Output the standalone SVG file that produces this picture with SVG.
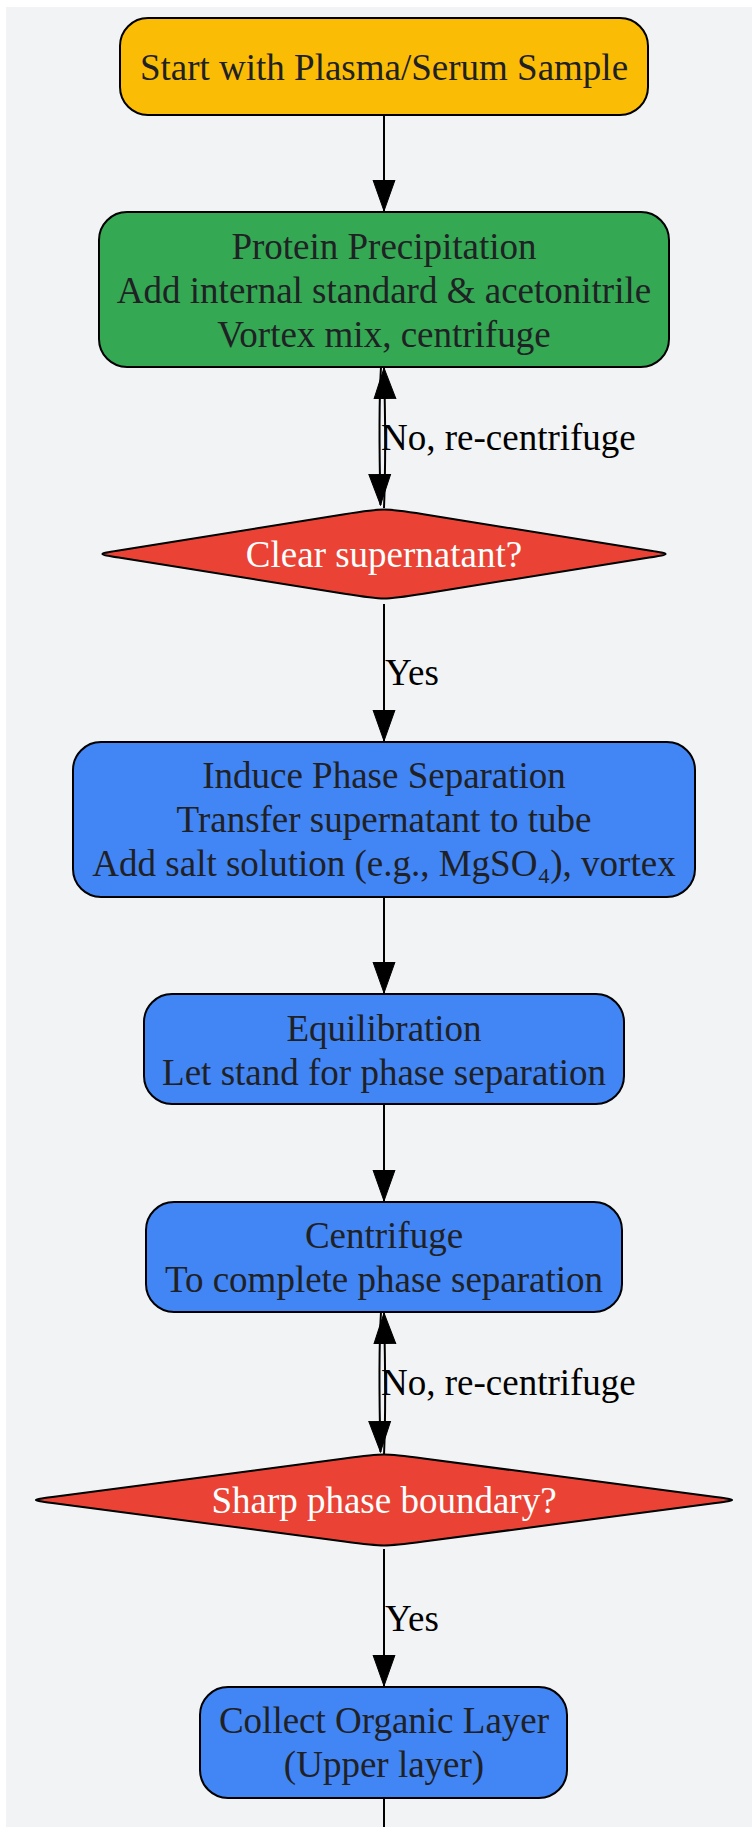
<svg xmlns="http://www.w3.org/2000/svg" width="752" height="1827" viewBox="0 0 752 1827">
<style>
  .node { stroke: #000; stroke-width: 2; }
  .t { font-family: "Liberation Serif", "DejaVu Serif", serif; font-size: 37px; text-anchor: middle; fill: #202124; }
  .tw { fill: #FFFFFF; }
  .lbl { font-family: "Liberation Serif", "DejaVu Serif", serif; font-size: 37px; fill: #000; }
  .edge { fill: none; stroke: #000; stroke-width: 2; }
  .yellow { fill: #FBBC05; }
  .green { fill: #34A853; }
  .red { fill: #EA4335; }
  .blue { fill: #4285F4; }
</style>
<defs>
  <marker id="arrow" markerUnits="userSpaceOnUse" markerWidth="32" markerHeight="24" viewBox="0 -12 32 24" refX="31" refY="0" orient="auto">
    <path d="M0,-11 L31,0 L0,11 Z" fill="#000" stroke="#000" stroke-width="1"/>
  </marker>
</defs>
<rect x="6" y="7" width="760" height="1830" fill="#F1F3F4"/>

<g id="connectors">
  <path class="edge" d="M384,115 L384,211" marker-end="url(#arrow)"/>
  <path class="edge" d="M381,367 C379,400 379,440 380.5,505" marker-end="url(#arrow)"/>
  <path class="edge" d="M384,508 C385.5,470 385.5,420 384,368" marker-end="url(#arrow)"/>
  <path class="edge" d="M384,604 L384,741" marker-end="url(#arrow)"/>
  <path class="edge" d="M384,897 L384,993" marker-end="url(#arrow)"/>
  <path class="edge" d="M384,1104 L384,1201" marker-end="url(#arrow)"/>
  <path class="edge" d="M381,1312 C379,1345 379,1390 380.5,1452" marker-end="url(#arrow)"/>
  <path class="edge" d="M384,1455 C385.5,1420 385.5,1370 384,1313" marker-end="url(#arrow)"/>
  <path class="edge" d="M384,1549 L384,1686" marker-end="url(#arrow)"/>
  <path class="edge" d="M384,1798 L384,1830"/>
  <text class="lbl" x="381" y="450">No, re-centrifuge</text>
  <text class="lbl" x="385" y="685">Yes</text>
  <text class="lbl" x="381" y="1395">No, re-centrifuge</text>
  <text class="lbl" x="385" y="1631">Yes</text>
</g>

<g id="start">
  <rect class="node yellow" x="120" y="18" width="528" height="97" rx="28" ry="28"/>
  <text class="t" x="384" y="80">Start with Plasma/Serum Sample</text>
</g>

<g id="protein">
  <rect class="node green" x="99" y="212" width="570" height="155" rx="28" ry="28"/>
  <text class="t" x="384" y="259">Protein Precipitation</text>
  <text class="t" x="384" y="303">Add internal standard &amp; acetonitrile</text>
  <text class="t" x="384" y="347">Vortex mix, centrifuge</text>
</g>

<g id="clear">
  <path class="node red" d="M118.7,550.5 L344.5,514.3 C384,508 384,508 423.5,514.3 L649.3,550.5 C671,554 671,554 649.3,557.5 L423.5,593.7 C384,600 384,600 344.5,593.7 L118.7,557.5 C97,554 97,554 118.7,550.5 Z"/>
  <text class="t tw" x="384" y="567">Clear supernatant?</text>
</g>

<g id="induce">
  <rect class="node blue" x="73" y="742" width="622" height="155" rx="28" ry="28"/>
  <text class="t" x="384" y="788">Induce Phase Separation</text>
  <text class="t" x="384" y="832">Transfer supernatant to tube</text>
  <text class="t" x="384" y="876">Add salt solution (e.g., MgSO₄), vortex</text>
</g>

<g id="equilibration">
  <rect class="node blue" x="144" y="994" width="480" height="110" rx="28" ry="28"/>
  <text class="t" x="384" y="1041">Equilibration</text>
  <text class="t" x="384" y="1085">Let stand for phase separation</text>
</g>

<g id="centrifuge">
  <rect class="node blue" x="146" y="1202" width="476" height="110" rx="28" ry="28"/>
  <text class="t" x="384" y="1248">Centrifuge</text>
  <text class="t" x="384" y="1292">To complete phase separation</text>
</g>

<g id="sharp">
  <path class="node red" d="M52.3,1497.1 L344.35,1458.45 C384,1453.2 384,1453.2 423.65,1458.45 L715.7,1497.1 C737.5,1500 737.5,1500 715.7,1502.9 L423.65,1541.55 C384,1546.8 384,1546.8 344.35,1541.55 L52.3,1502.9 C30.5,1500 30.5,1500 52.3,1497.1 Z"/>
  <text class="t tw" x="384" y="1513">Sharp phase boundary?</text>
</g>

<g id="collect">
  <rect class="node blue" x="200" y="1687" width="367" height="111" rx="28" ry="28"/>
  <text class="t" x="384" y="1733">Collect Organic Layer</text>
  <text class="t" x="384" y="1777">(Upper layer)</text>
</g>
</svg>
